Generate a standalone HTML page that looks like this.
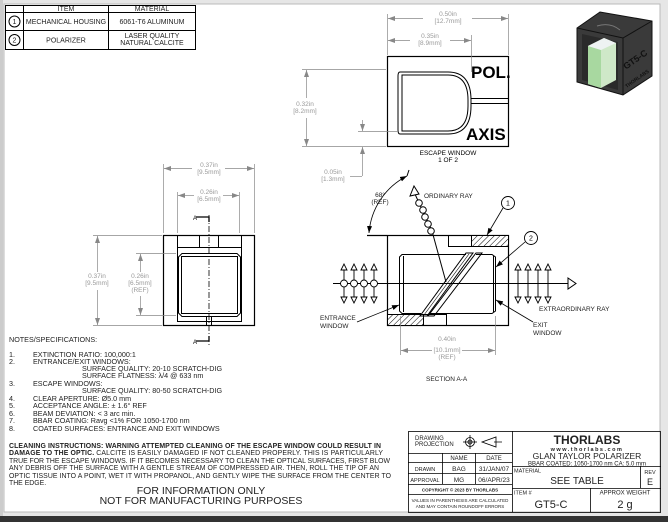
<!DOCTYPE html>
<html><head><meta charset="utf-8"><style>
html,body{margin:0;padding:0;background:#fff}
svg{display:block}
text{font-family:"Liberation Sans",sans-serif}
</style></head><body>
<svg width="668" height="522" viewBox="0 0 668 522" xmlns="http://www.w3.org/2000/svg">
<defs>
<pattern id="h" width="4" height="4" patternUnits="userSpaceOnUse" patternTransform="rotate(45)"><rect width="4" height="4" fill="#fff"/><line x1="0" y1="0" x2="0" y2="4" stroke="#000" stroke-width="1"/></pattern>
<marker id="a" markerWidth="8" markerHeight="6" refX="7" refY="3" orient="auto-start-reverse" markerUnits="userSpaceOnUse"><path d="M0,0.5 L7,3 L0,5.5z" fill="#888"/></marker>
<marker id="b" markerWidth="8" markerHeight="6" refX="7" refY="3" orient="auto-start-reverse" markerUnits="userSpaceOnUse"><path d="M0,0.5 L7,3 L0,5.5z" fill="#000"/></marker>
</defs>
<rect width="668" height="522" fill="#e6e6e6"/>
<rect x="4" y="4" width="656" height="508" fill="#fff" stroke="#bbb"/>
<rect x="0" y="516" width="668" height="6" fill="#333"/>
<rect x="0" y="0" width="3" height="516" fill="#ccc"/>

<!-- parts table -->
<g stroke="#000" stroke-width="1" fill="none">
<rect x="5.5" y="5.5" width="190" height="44"/>
<line x1="5" y1="12.5" x2="195" y2="12.5"/><line x1="5" y1="30.5" x2="195" y2="30.5"/>
<line x1="23.5" y1="5" x2="23.5" y2="49"/><line x1="108.5" y1="5" x2="108.5" y2="49"/>
<circle cx="14.5" cy="21.5" r="5.5"/><circle cx="14.5" cy="40" r="5.5"/>
</g>
<g font-size="7" text-anchor="middle" fill="#222">
<text x="66" y="11">ITEM</text><text x="152" y="11">MATERIAL</text>
<text x="14.5" y="24">1</text><text x="14.5" y="42.5">2</text>
<text x="66" y="24">MECHANICAL HOUSING</text><text x="152" y="24">6061-T6 ALUMINUM</text>
<text x="66" y="42.5">POLARIZER</text><text x="152" y="38">LASER QUALITY</text><text x="152" y="45">NATURAL CALCITE</text>
</g>

<!-- escape window view -->
<g stroke="#000" fill="none">
<rect x="387.5" y="56.5" width="121" height="90" stroke-width="1.2"/>
<path d="M400,72 H448 Q471,72 471,100 V106 Q471,134 448,134 H400 Q398,134 398,130 V76 Q398,72 400,72z"/>
<path d="M402,75 H448 Q468,75 468,100 V106 Q468,131 448,131 H402z"/>
<line x1="471" y1="98.5" x2="508" y2="98.5"/><line x1="471" y1="103.5" x2="508" y2="103.5"/>
</g>
<text x="471" y="78" font-size="17" font-weight="bold">POL.</text>
<text x="466" y="140" font-size="17" font-weight="bold">AXIS</text>
<text x="448" y="155" font-size="6.5" text-anchor="middle">ESCAPE WINDOW</text>
<text x="448" y="162" font-size="6.5" text-anchor="middle">1 OF 2</text>
<g stroke="#888" stroke-width="0.7" fill="none">
<line x1="387.5" y1="14" x2="387.5" y2="55"/><line x1="508.5" y1="14" x2="508.5" y2="55"/>
<line x1="471.5" y1="35" x2="471.5" y2="72"/>
<line x1="388" y1="18.5" x2="423" y2="18.5" marker-start="url(#a)"/><line x1="472" y1="18.5" x2="508" y2="18.5" marker-end="url(#a)"/>
<line x1="388" y1="40.5" x2="410" y2="40.5" marker-start="url(#a)"/><line x1="450" y1="40.5" x2="471" y2="40.5" marker-end="url(#a)"/>
<line x1="302" y1="69.5" x2="386" y2="69.5"/><line x1="302" y1="146.5" x2="386" y2="146.5"/>
<line x1="306.5" y1="70" x2="306.5" y2="98" marker-start="url(#a)"/><line x1="306.5" y1="118" x2="306.5" y2="146" marker-end="url(#a)"/>
<line x1="358" y1="131.5" x2="398" y2="131.5"/>
<line x1="362.5" y1="120" x2="362.5" y2="131" marker-end="url(#a)"/>
<line x1="362.5" y1="147" x2="362.5" y2="176" marker-start="url(#a)"/><line x1="362" y1="176.5" x2="350" y2="176.5"/>
</g>
<g font-size="6.5" fill="#999" text-anchor="middle">
<text x="448" y="16">0.50in</text><text x="448" y="23">[12.7mm]</text>
<text x="430" y="38">0.35in</text><text x="430" y="45">[8.9mm]</text>
<text x="305" y="106">0.32in</text><text x="305" y="113">[8.2mm]</text>
<text x="333" y="174">0.05in</text><text x="333" y="181">[1.3mm]</text>
</g>

<!-- iso cube -->
<g>
<path d="M577,28 L600,12 L652,21 L652,76 L623,95 L577,82z" fill="#3a3a3a" stroke="#111"/>
<path d="M577,28 L623,38 L652,21" fill="none" stroke="#111"/>
<line x1="623" y1="38" x2="623" y2="95" stroke="#111"/>
<path d="M582,34 L618,42 L618,90 L582,80z" fill="#2a2a2a"/>
<path d="M588,46 L604,38 L616,43 L616,80 L601,88 L588,84z" fill="#cfe8c8"/>
<path d="M588,46 L601,50 L601,88 L588,84z" fill="#a8d8a0"/>
<path d="M588,46 L604,38 L616,43 L601,50z" fill="#eef2f2"/>
<path d="M597,26 Q610,22 620,30" fill="none" stroke="#777"/>
<text x="637" y="62" font-size="9" font-weight="bold" fill="#111" transform="rotate(-35 637 62)" text-anchor="middle">GT5-C</text>
<text x="638" y="80" font-size="5" font-weight="bold" fill="#111" transform="rotate(-35 638 80)" text-anchor="middle">THORLABS</text>
</g>

<!-- front view -->
<g stroke="#000" fill="none">
<rect x="163.5" y="235.5" width="91" height="90" stroke-width="1.2"/>
<path d="M177.5,235 V321.5 H241.5 V235"/>
<line x1="177" y1="247.5" x2="241" y2="247.5"/>
<line x1="199.5" y1="235" x2="199.5" y2="247"/><line x1="218.5" y1="235" x2="218.5" y2="247"/>
<path d="M182,253.5 H237 L240.5,257 V313 L237,316.5 H182 L178.5,313 V257z"/>
<rect x="181.5" y="256.5" width="56" height="57"/>
<rect x="206.5" y="316.5" width="5" height="9"/>
</g>
<line x1="209" y1="215" x2="209" y2="345" stroke="#000" stroke-width="0.8" stroke-dasharray="6,2,1,2"/>
<path d="M196,217 H209 V222" fill="none" stroke="#000" stroke-width="1.3"/><text x="193" y="220" font-size="6">A</text>
<path d="M196,341 H209 V336" fill="none" stroke="#000" stroke-width="1.3"/><text x="193" y="344" font-size="6">A</text>
<g stroke="#888" stroke-width="0.7" fill="none">
<line x1="163.5" y1="164" x2="163.5" y2="233"/><line x1="254.5" y1="164" x2="254.5" y2="233"/>
<line x1="177.5" y1="192" x2="177.5" y2="233"/><line x1="239.5" y1="192" x2="239.5" y2="233"/>
<line x1="164" y1="168.5" x2="192" y2="168.5" marker-start="url(#a)"/><line x1="225" y1="168.5" x2="254" y2="168.5" marker-end="url(#a)"/>
<line x1="178" y1="195.5" x2="194" y2="195.5" marker-start="url(#a)"/><line x1="223" y1="195.5" x2="239" y2="195.5" marker-end="url(#a)"/>
<line x1="93" y1="235.5" x2="162" y2="235.5"/><line x1="93" y1="325.5" x2="162" y2="325.5"/>
<line x1="97.5" y1="236" x2="97.5" y2="272" marker-start="url(#a)"/><line x1="97.5" y1="290" x2="97.5" y2="325" marker-end="url(#a)"/>
<line x1="136" y1="253.5" x2="176" y2="253.5"/><line x1="136" y1="315.5" x2="176" y2="315.5"/>
<line x1="140.5" y1="254" x2="140.5" y2="272" marker-start="url(#a)"/><line x1="140.5" y1="296" x2="140.5" y2="315" marker-end="url(#a)"/>
</g>
<g font-size="6.5" fill="#999" text-anchor="middle">
<text x="209" y="167">0.37in</text><text x="209" y="174">[9.5mm]</text>
<text x="209" y="194">0.26in</text><text x="209" y="201">[6.5mm]</text>
<text x="97" y="278">0.37in</text><text x="97" y="285">[9.5mm]</text>
<text x="140" y="278">0.26in</text><text x="140" y="285">[6.5mm]</text><text x="140" y="292">(REF)</text>
</g>

<!-- section A-A -->
<g stroke="#000" fill="none">
<rect x="387.5" y="235.5" width="121" height="90" stroke-width="1.2"/>
<rect x="448.5" y="235.5" width="23" height="11"/>
<rect x="471.5" y="235.5" width="37" height="11" fill="url(#h)"/>
<rect x="387.5" y="314.5" width="36" height="11" fill="url(#h)"/>
<line x1="423" y1="314.5" x2="446" y2="314.5"/><line x1="446.5" y1="314" x2="446.5" y2="325"/>
<path d="M466,254.5 H402 L399.5,257 V311 L402,313.5 H421"/>
<path d="M476,254.5 H492 L495.5,257 V311 L492,313.5 H430"/>
<line x1="403.5" y1="256" x2="403.5" y2="312"/><line x1="493.5" y1="256" x2="493.5" y2="312"/>
<path d="M466,253 L473,253 L427,316 L420,316z"/>
<path d="M476,253 L482,253 L434,316 L428,316z"/>
<line x1="469" y1="254" x2="424" y2="315" stroke-width="0.6"/>
<line x1="367" y1="235.5" x2="387" y2="235.5" stroke-width="1.2"/>
<path d="M369,233 A70,70 0 0 1 407,176" marker-start="url(#b)" marker-end="url(#b)" stroke-width="0.8"/>
<line x1="407" y1="176" x2="409" y2="170"/>
<line x1="333" y1="283.5" x2="568" y2="283.5"/>
<path d="M568,278 L576,283.5 L568,289z" fill="#fff"/>
<line x1="446" y1="282" x2="432" y2="231"/>
<line x1="432" y1="231" x2="414" y2="192"/>
<path d="M410,196 L414,186 L419,194z" fill="#fff"/>
</g>
<g stroke="#000" fill="#fff">
<circle cx="419" cy="203" r="3.3"/><circle cx="423" cy="210" r="3.3"/><circle cx="425" cy="217" r="3.3"/><circle cx="428" cy="224" r="3.3"/><circle cx="431" cy="231" r="3.3"/>
</g>
<g stroke="#000" fill="#fff" stroke-width="0.9">
<g id="la"><line x1="344" y1="268" x2="344" y2="299"/><path d="M341,270 L344,264 L347,270z M341,297 L344,303 L347,297z"/><circle cx="344" cy="283.5" r="3.5"/></g>
<use href="#la" x="10"/><use href="#la" x="20"/><use href="#la" x="30"/>
<g id="ra"><line x1="518" y1="268" x2="518" y2="299"/><path d="M515,270 L518,264 L521,270z M515,297 L518,303 L521,297z"/></g>
<use href="#ra" x="10"/><use href="#ra" x="20"/><use href="#ra" x="30"/>
<circle cx="508" cy="203" r="6.5"/><circle cx="531" cy="238" r="6.5"/>
</g>
<text x="508" y="205.5" font-size="7" text-anchor="middle">1</text>
<text x="531" y="240.5" font-size="7" text-anchor="middle">2</text>
<g stroke="#000" stroke-width="0.8" fill="none">
<line x1="503" y1="208" x2="487" y2="235" marker-end="url(#b)"/>
<line x1="525" y1="242" x2="496" y2="267" marker-end="url(#b)"/>
<line x1="357" y1="322" x2="399" y2="305" marker-end="url(#b)"/>
<line x1="533" y1="322" x2="496" y2="300" marker-end="url(#b)"/>
</g>
<g font-size="6.5" fill="#222">
<text x="424" y="198">ORDINARY RAY</text>
<text x="539" y="311">EXTRAORDINARY RAY</text>
<text x="320" y="320">ENTRANCE</text><text x="320" y="328">WINDOW</text>
<text x="533" y="327">EXIT</text><text x="533" y="335">WINDOW</text>
<text x="426" y="381">SECTION A-A</text>
</g>
<text x="380" y="197" font-size="6.5" fill="#222" text-anchor="middle">68°</text>
<text x="380" y="204" font-size="6.5" fill="#222" text-anchor="middle">(REF)</text>
<g stroke="#888" stroke-width="0.7" fill="none">
<line x1="400.5" y1="316" x2="400.5" y2="355"/><line x1="495.5" y1="316" x2="495.5" y2="355"/>
<line x1="401" y1="350.5" x2="432" y2="350.5" marker-start="url(#a)"/><line x1="462" y1="350.5" x2="495" y2="350.5" marker-end="url(#a)"/>
</g>
<g font-size="6.5" fill="#999" text-anchor="middle">
<text x="447" y="341">0.40in</text><text x="447" y="352">[10.1mm]</text><text x="447" y="359">(REF)</text>
</g>

<!-- notes -->
<g font-size="7.2" fill="#222">
<text x="9" y="342">NOTES/SPECIFICATIONS:</text>
<text x="9" y="357">1.</text><text x="33" y="357">EXTINCTION RATIO: 100,000:1</text>
<text x="9" y="364">2.</text><text x="33" y="364">ENTRANCE/EXIT WINDOWS:</text>
<text x="82" y="371">SURFACE QUALITY: 20-10 SCRATCH-DIG</text>
<text x="82" y="378">SURFACE FLATNESS: λ/4 @ 633 nm</text>
<text x="9" y="386">3.</text><text x="33" y="386">ESCAPE WINDOWS:</text>
<text x="82" y="393">SURFACE QUALITY: 80-50 SCRATCH-DIG</text>
<text x="9" y="401">4.</text><text x="33" y="401">CLEAR APERTURE: Ø5.0 mm</text>
<text x="9" y="408">5.</text><text x="33" y="408">ACCEPTANCE ANGLE: ± 1.6° REF</text>
<text x="9" y="416">6.</text><text x="33" y="416">BEAM DEVIATION: &lt; 3 arc min.</text>
<text x="9" y="423">7.</text><text x="33" y="423">BBAR COATING: Ravg &lt;1% FOR 1050-1700 nm</text>
<text x="9" y="431">8.</text><text x="33" y="431">COATED SURFACES: ENTRANCE AND EXIT WINDOWS</text>
</g>
<g font-size="6.9" fill="#222">
<text x="9" y="448" font-weight="bold" textLength="372">CLEANING INSTRUCTIONS: WARNING ATTEMPTED CLEANING OF THE ESCAPE WINDOW COULD RESULT IN</text>
<text x="9" y="455" textLength="374"><tspan font-weight="bold">DAMAGE TO THE OPTIC.</tspan>  CALCITE IS EASILY DAMAGED IF NOT CLEANED PROPERLY.  THIS IS PARTICULARLY</text>
<text x="9" y="463" textLength="381">TRUE FOR THE ESCAPE WINDOWS. IF IT BECOMES NECESSARY TO CLEAN THE OPTICAL SURFACES, FIRST BLOW</text>
<text x="9" y="470" textLength="370">ANY DEBRIS OFF THE SURFACE WITH A GENTLE STREAM OF COMPRESSED AIR.  THEN, ROLL THE TIP OF AN</text>
<text x="9" y="478" textLength="382">OPTIC TISSUE INTO A POINT, WET IT WITH PROPANOL, AND GENTLY WIPE THE SURFACE FROM THE CENTER TO</text>
<text x="9" y="485">THE EDGE.</text>
</g>
<text x="201" y="494" font-size="10.5" text-anchor="middle" fill="#222">FOR INFORMATION ONLY</text>
<text x="201" y="504" font-size="10.5" text-anchor="middle" fill="#222">NOT FOR MANUFACTURING PURPOSES</text>

<!-- title block -->
<g stroke="#000" stroke-width="0.8" fill="none">
<rect x="408.5" y="431.5" width="252" height="81"/>
<line x1="512.5" y1="431" x2="512.5" y2="512"/>
<line x1="408" y1="453.5" x2="512" y2="453.5"/><line x1="408" y1="462.5" x2="512" y2="462.5"/>
<line x1="408" y1="473.5" x2="512" y2="473.5"/><line x1="408" y1="484.5" x2="512" y2="484.5"/>
<line x1="408" y1="494.5" x2="512" y2="494.5"/>
<line x1="442.5" y1="453" x2="442.5" y2="484"/><line x1="475.5" y1="453" x2="475.5" y2="484"/>
<line x1="512" y1="466.5" x2="661" y2="466.5"/><line x1="512" y1="488.5" x2="661" y2="488.5"/>
<line x1="640.5" y1="466" x2="640.5" y2="488"/><line x1="590.5" y1="488" x2="590.5" y2="512"/>
<circle cx="470" cy="442" r="4.5"/><circle cx="470" cy="442" r="2"/>
<line x1="463" y1="442" x2="477" y2="442"/><line x1="470" y1="435" x2="470" y2="449"/>
<path d="M482,442 L496,437 V447z M494,442 H502"/>
</g>
<g fill="#222">
<text x="415" y="440" font-size="6">DRAWING</text><text x="415" y="446" font-size="6">PROJECTION</text>
<text x="459" y="460" font-size="6" text-anchor="middle">NAME</text><text x="494" y="460" font-size="6" text-anchor="middle">DATE</text>
<text x="425" y="471" font-size="5.5" text-anchor="middle">DRAWN</text><text x="459" y="471" font-size="6.5" text-anchor="middle">BAG</text><text x="494" y="471" font-size="6.5" text-anchor="middle">31/JAN/07</text>
<text x="425" y="482" font-size="5.5" text-anchor="middle">APPROVAL</text><text x="459" y="482" font-size="6.5" text-anchor="middle">MG</text><text x="494" y="482" font-size="6.5" text-anchor="middle">06/APR/23</text>
<text x="460" y="491.5" font-size="4.5" text-anchor="middle" font-weight="bold">COPYRIGHT © 2023 BY THORLABS</text>
<text x="460" y="502" font-size="4.5" text-anchor="middle">VALUES IN PARENTHESIS ARE CALCULATED</text>
<text x="460" y="508" font-size="4.5" text-anchor="middle">AND MAY CONTAIN ROUNDOFF ERRORS</text>
<text x="587" y="444" font-size="12" font-weight="bold" text-anchor="middle">THORLABS</text>
<text x="587" y="451" font-size="5.5" text-anchor="middle" letter-spacing="1.5" font-weight="bold">www.thorlabs.com</text>
<text x="587" y="459" font-size="8.5" text-anchor="middle">GLAN TAYLOR POLARIZER</text>
<text x="587" y="465.5" font-size="6" text-anchor="middle">BBAR COATED: 1050-1700 nm CA: 5.0 mm</text>
<text x="514" y="472.5" font-size="5.5">MATERIAL</text>
<text x="577" y="484" font-size="10" text-anchor="middle">SEE TABLE</text>
<text x="650" y="474" font-size="5.5" text-anchor="middle">REV</text>
<text x="650" y="485" font-size="9" text-anchor="middle">E</text>
<text x="514" y="494.5" font-size="5.5">ITEM #</text>
<text x="551" y="508" font-size="11" text-anchor="middle">GT5-C</text>
<text x="625" y="494.5" font-size="6" text-anchor="middle">APPROX WEIGHT</text>
<text x="625" y="508" font-size="11" text-anchor="middle">2 g</text>
</g>
</svg>
</body></html>
